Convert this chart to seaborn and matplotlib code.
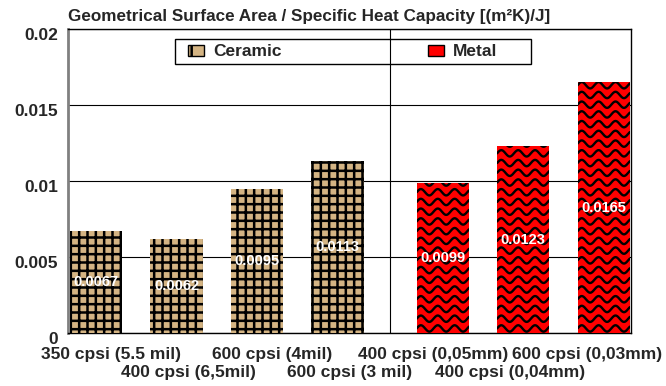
import numpy as np
import pandas as pd
import matplotlib
matplotlib.use("Agg")
import matplotlib.pyplot as plt
import seaborn as sns
from matplotlib.patches import Patch, Rectangle
from matplotlib.transforms import ScaledTranslation

# ---- data ----
categories = ["350 cpsi (5.5 mil)", "400 cpsi (6,5mil)", "600 cpsi (4mil)",
              "600 cpsi (3 mil)", "400 cpsi (0,05mm)", "400 cpsi (0,04mm)",
              "600 cpsi (0,03mm)"]
materials = ["Ceramic", "Ceramic", "Ceramic", "Ceramic", "Metal", "Metal", "Metal"]
values = [0.0067, 0.0062, 0.0095, 0.0113, 0.0099, 0.0123, 0.0165]
series = ["Ceramic", "Metal"]
yticks = [0, 0.005, 0.01, 0.015, 0.02]
ytick_labels = ["0", "0.005", "0.01", "0.015", "0.02"]
title = "Geometrical Surface Area / Specific Heat Capacity [(m²K)/J]"

# ---- styles ----
colors = {"Ceramic": "#D4B483", "Metal": "#FF0000"}
offset = {"Ceramic": -0.15, "Metal": 0.16}

df = pd.DataFrame({"category": categories, "material": materials, "value": values})
df["pos"] = [i + offset[m] for i, m in enumerate(materials)]

sns.set_style("white")
plt.rcParams["font.family"] = ["Liberation Sans", "DejaVu Sans"]
plt.rcParams["hatch.linewidth"] = 1.8
plt.rcParams["hatch.color"] = "black"

fig = plt.figure(figsize=(6.66, 3.86), dpi=100)
ax = fig.add_axes([68 / 666, 53 / 386, 563 / 666, 304 / 386])

sns.barplot(data=df, x="pos", y="value", hue="material", hue_order=series,
            palette=colors, native_scale=True, width=0.65, dodge=False,
            saturation=1, legend=False, errorbar=None, ax=ax, zorder=3,
            linewidth=0)

# ceramic: grid pattern
for p in ax.containers[0]:
    p.set_hatch("++")
    p.set_edgecolor("black")
    p.set_linewidth(0)

# metal: wavy pattern clipped to bars
period, row_dy, amp = 0.21, 0.00064, 0.00021
for p in ax.containers[1]:
    p.set_edgecolor("none")
    x0, w, h = p.get_x(), p.get_width(), p.get_height()
    xs = np.linspace(x0, x0 + w, 200)
    for yb in np.arange(0.0003, h + 0.0008, row_dy):
        ys = yb + amp * np.sin(2 * np.pi * (xs - x0) / period)
        ln, = ax.plot(xs, ys, color="black", lw=1.7, zorder=3.5)
        ln.set_clip_path(p)

for c in ax.containers:
    ax.bar_label(c, fmt="%g", label_type="center", color="white",
                 fontsize=10.5, fontweight="bold", zorder=6)

ax.set_xlim(-0.5, 6.5)
ax.set_ylim(0, 0.02)
ax.set_yticks(yticks)
ax.set_yticklabels(ytick_labels)
ax.set_xticks(range(len(categories)))
ax.set_xticklabels(categories)
ax.set_xlabel("")
ax.set_ylabel("")

ax.yaxis.grid(True, color="black", lw=0.8)
ax.xaxis.grid(False)
ax.set_axisbelow(True)
ax.axvline(3.5, color="black", lw=0.8, zorder=1)

for s in ["top", "right", "bottom"]:
    ax.spines[s].set_visible(True)
    ax.spines[s].set_color("black")
    ax.spines[s].set_linewidth(1)
ax.spines["left"].set_color("#808080")
ax.spines["left"].set_linewidth(2)

ax.tick_params(axis="both", length=0, labelsize=12.5)
ax.tick_params(axis="y", pad=7)
ax.tick_params(axis="x", pad=10)
for lbl in ax.get_xticklabels() + ax.get_yticklabels():
    lbl.set_fontweight("bold")
for lbl in ax.get_yticklabels():
    lbl.set_transform(lbl.get_transform() + ScaledTranslation(0, -5 / 100, fig.dpi_scale_trans))
xlbls = ax.get_xticklabels()
for i, lbl in enumerate(xlbls):
    dx = 3 if i < len(xlbls) - 1 else -4
    lbl.set_transform(lbl.get_transform() + ScaledTranslation(dx / 100, 0, fig.dpi_scale_trans))
for i, t in enumerate(ax.xaxis.get_major_ticks()):
    if i % 2 == 1:
        t.set_pad(23)

handles = [Patch(facecolor=colors["Ceramic"], edgecolor="black", hatch="|", lw=1),
           Patch(facecolor=colors["Metal"], edgecolor="black", lw=1)]
ax.legend(handles, series, loc="center left",
          bbox_to_anchor=((179 - 68) / 563, (333 - 52) / 304), ncol=2,
          frameon=False, borderpad=0, handlelength=0.92, handleheight=0.6,
          handletextpad=0.55, columnspacing=8.4,
          prop={"weight": "bold", "size": 12.5})
ax.add_patch(Rectangle(((175 - 68) / 563, (333 - 64) / 304), (531 - 175) / 563,
                       25 / 304, transform=ax.transAxes, fill=False,
                       edgecolor="black", lw=1, zorder=4))

fig.text(68 / 666, 1 - 16 / 386, title, ha="left", va="center",
         fontsize=12.3, fontweight="bold")

fig.savefig("out.png", dpi=100)
